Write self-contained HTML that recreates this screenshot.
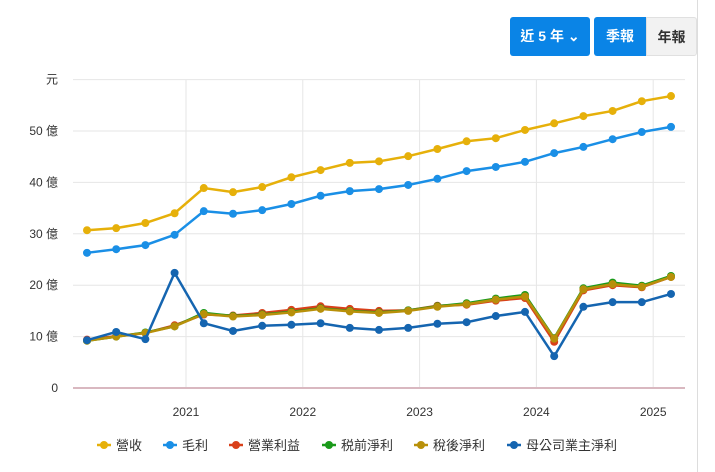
<!DOCTYPE html>
<html><head><meta charset="utf-8"><style>
body{margin:0;width:715px;height:472px;background:#fff;font-family:"Liberation Sans","Noto Sans CJK TC",sans-serif;position:relative;overflow:hidden}
.btn{position:absolute;top:17px;height:39px;line-height:39px;text-align:center;font-size:14px;font-weight:bold;box-sizing:border-box}
</style></head><body>
<svg id="chart" width="715" height="472" style="position:absolute;left:0;top:0"></svg>
<div style="position:absolute;left:697px;top:0;width:1px;height:472px;background:#ddd"></div>
<div class="btn" style="left:510px;width:80px;background:#0a84e6;color:#fff;border-radius:3px">近 5 年 &#8964;</div>
<div class="btn" style="left:594px;width:52px;background:#0a84e6;color:#fff;border-radius:3px 0 0 3px">季報</div>
<div class="btn" style="left:646px;width:51px;background:#f2f2f2;color:#333;border:1px solid #e0e0e0;border-radius:0 3px 3px 0">年報</div>
<script>
const yTicks=[0,10,20,30,40,50];
const yearLabels=["2021","2022","2023","2024","2025"];
const revenue=[30.7,31.1,32.1,34.0,38.9,38.1,39.1,41.0,42.4,43.8,44.1,45.1,46.5,48.0,48.6,50.2,51.5,52.9,53.9,55.8,56.8];
const gross=[26.3,27.0,27.8,29.8,34.4,33.9,34.6,35.8,37.4,38.3,38.7,39.5,40.7,42.2,43.0,44.0,45.7,46.9,48.4,49.8,50.8];
const opIncome=[9.4,10.1,10.7,12.2,14.3,14.1,14.6,15.2,15.9,15.4,15.0,15.1,16.0,16.2,17.0,17.5,9.0,19.0,20.0,19.6,21.6];
const pretax=[9.2,10.0,10.8,12.0,14.6,14.0,14.3,14.8,15.5,15.0,14.7,15.1,15.9,16.5,17.4,18.1,9.7,19.4,20.5,19.9,21.8];
const aftertax=[9.2,10.0,10.7,12.0,14.4,13.9,14.2,14.7,15.4,14.9,14.6,15.0,15.8,16.3,17.2,17.8,9.6,19.2,20.2,19.7,21.6];
const parent=[9.3,10.9,9.5,22.4,12.6,11.1,12.1,12.3,12.6,11.7,11.3,11.7,12.5,12.8,14.0,14.8,6.2,15.8,16.7,16.7,18.3];
const seriesNames=["營收","毛利","營業利益","税前淨利","稅後淨利","母公司業主淨利"];
const colors=["#e6b00a","#1a8fe6","#d9401a","#1a9a1a","#b8900a","#1565b0"];
const all=[revenue,gross,opIncome,pretax,aftertax,parent];
const svg=document.getElementById('chart');const NS='http://www.w3.org/2000/svg';
function xs(i){return 87+29.2*i;}
function ys(v){return 388-v*5.14;}
function mk(t,a,p){const e=document.createElementNS(NS,t);for(const k in a)e.setAttribute(k,a[k]);(p||svg).appendChild(e);return e;}
const topLine=mk('line',{x1:73,x2:685,y1:ys(60),y2:ys(60),stroke:'#e6e6e6'});


yearLabels.forEach((s,k)=>{const xx=xs(3.39+4*k);
const l=mk('line',{x1:xx,x2:xx,y1:ys(60),y2:388,stroke:'#e6e6e6'});


const t=mk('text',{x:xx,y:416,'text-anchor':'middle','font-size':12,fill:'#333'});t.textContent=s;

});
yTicks.forEach(v=>{const l=mk('line',{x1:73,x2:685,y1:ys(v),y2:ys(v),stroke:v===0?'#d9b8c0':'#e6e6e6','stroke-width':v===0?2:1});


const t=mk('text',{x:58,y:ys(v)+4,'text-anchor':'end','font-size':12,fill:'#333'});t.textContent=v===0?'0':v+' 億';

});
const yu=mk('text',{x:58,y:ys(60)+4,'text-anchor':'end','font-size':12,fill:'#333'});yu.textContent='元';


all.forEach((d,si)=>{const g=mk('g',{});


const p=mk('polyline',{points:d.map((v,i)=>xs(i)+','+ys(v)).join(' '),fill:'none',stroke:colors[si],'stroke-width':2.5},g);


d.forEach((v,i)=>{const c=mk('circle',{cx:xs(i),cy:ys(v),r:4,fill:colors[si]},g);

});});
const lx=[104,170,236,329,421,514];
seriesNames.forEach((n,i)=>{const g=mk('g',{});


mk('line',{x1:lx[i]-7,x2:lx[i]+7,y1:445,y2:445,stroke:colors[i],'stroke-width':2.5},g);
mk('circle',{cx:lx[i],cy:445,r:4,fill:colors[i]},g);
const t=mk('text',{x:lx[i]+12,y:450,'font-size':13,fill:'#333'},g);t.textContent=n;});
</script>
</body></html>
